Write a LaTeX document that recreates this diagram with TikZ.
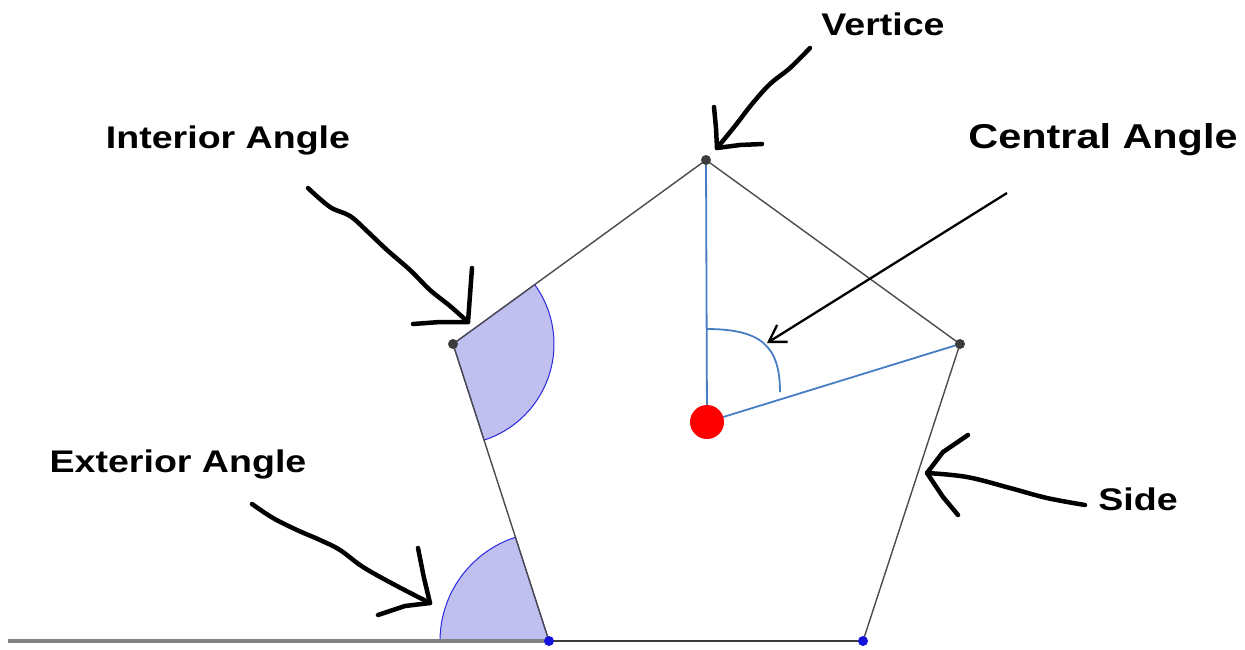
\documentclass[tikz,border=0pt]{standalone}
\usepackage{fontspec}
\setmainfont{Liberation Sans}
\usetikzlibrary{arrows.meta}
\definecolor{edgegray}{RGB}{75,75,75}
\definecolor{basegray}{RGB}{130,130,130}
\definecolor{sectorfill}{RGB}{191,191,240}
\definecolor{sectorline}{RGB}{40,40,225}
\definecolor{radiusblue}{RGB}{70,125,195}
\definecolor{dotgray}{RGB}{60,60,60}
\definecolor{dotblue}{RGB}{20,20,220}
\begin{document}
\begin{tikzpicture}[x=1pt,y=-1pt,
  lbl/.style={font=\bfseries\fontsize{31.3}{36}\selectfont, inner sep=0pt},
  biglbl/.style={font=\bfseries\fontsize{34.5}{40}\selectfont, inner sep=0pt},
  hand/.style={line width=4.5pt, line cap=round, line join=round, black},
  edge/.style={line width=1.4pt, edgegray},
  radline/.style={line width=1.8pt, radiusblue},
  sector/.style={fill=sectorfill, draw=sectorline, line width=1pt},
  vdot/.style={circle, fill=dotgray, inner sep=0pt, minimum size=10pt},
  bdot/.style={circle, fill=dotblue, inner sep=0pt, minimum size=10pt}]
\useasboundingbox (0,0) rectangle (1245,649);

% vertices
\coordinate (T) at (706,160);
\coordinate (R) at (960,344);
\coordinate (BR) at (863,641);
\coordinate (BL) at (549,641);
\coordinate (L) at (453,344);
\coordinate (O) at (707,422);
\coordinate (E) at (8,641);

% angle sectors
\draw[sector] (L) -- ++(-36.03:101) arc[start angle=-36.03, end angle=72.09, radius=101] -- cycle;
\draw[sector] (BL) -- ++(180:109) arc[start angle=180, end angle=252.09, radius=109] -- cycle;

% base line and pentagon
\draw[line width=3.2pt, basegray] (E) -- (BL);
\draw[line width=2.6pt, edgegray!80!black] (BL) -- (BR);
\draw[edge] (BR) -- (R) -- (T) -- (L) -- (BL);

% central angle
\draw[radline] (T) -- (O) -- (R);
\draw[radline] (706,329) .. controls (760,329) and (780,345) .. (780,392);
\coordinate (arcpt) at (767,343);
\fill[red] (O) circle[radius=17];

% vertex dots
\node[vdot] (vT) at (T) {};
\node[vdot] (vR) at (R) {};
\node[vdot] (vL) at (L) {};
\node[bdot] (vBL) at (BL) {};
\node[bdot] (vBR) at (BR) {};

% labels
\node[lbl] (vertice) at (883,24) {\scalebox{1.2}[1]{Vertice}};
\node[lbl] (interior) at (228,140) {\scalebox{1.2}[1]{Interior Angle}};
\node[biglbl] (central) at (1103,140) {\scalebox{1.2}[1]{Central Angle}};
\node[lbl] (exterior) at (178,464) {\scalebox{1.2}[1]{Exterior Angle}};
\node[lbl] (side) at (1138,499) {\scalebox{1.2}[1]{Side}};

% central arrow
\coordinate (cstart) at (1007,193);
\draw[line width=2.3pt, -{Straight Barb[length=16pt,width=20pt]}] (cstart) -- (arcpt);

% hand-drawn arrows
\coordinate (vtip) at (717,148);
\draw[hand] plot[smooth, tension=0.6] coordinates {(810,48) (790,68) (770,84) (752,104) (735,126) (717,148)};
\draw[hand] (714,107) -- (716,128) -- (vtip) -- (740,145) -- (762,144);

\coordinate (itip) at (468,322);
\draw[hand] plot[smooth, tension=0.6] coordinates {(308,188) (330,207) (350,216) (368,232) (387,250) (410,270) (430,290) (450,306) (itip)};
\draw[hand] (472,268) -- (470,295) -- (itip) -- (440,322) -- (413,324);

\coordinate (etip) at (430,603);
\draw[hand] plot[smooth, tension=0.6] coordinates {(252,504) (273,518) (297,530) (320,540) (340,550) (363,567) (395,585) (etip)};
\draw[hand] (418,548) -- (424,578) -- (etip) -- (405,606) -- (378,615);

\coordinate (stip) at (927,473);
\draw[hand] plot[smooth, tension=0.6] coordinates {(1085,505) (1047,498) (1010,488) (967,477) (stip)};
\draw[hand] (968,435) -- (943,452) -- (stip) -- (943,497) -- (958,515);
\end{tikzpicture}
\end{document}
